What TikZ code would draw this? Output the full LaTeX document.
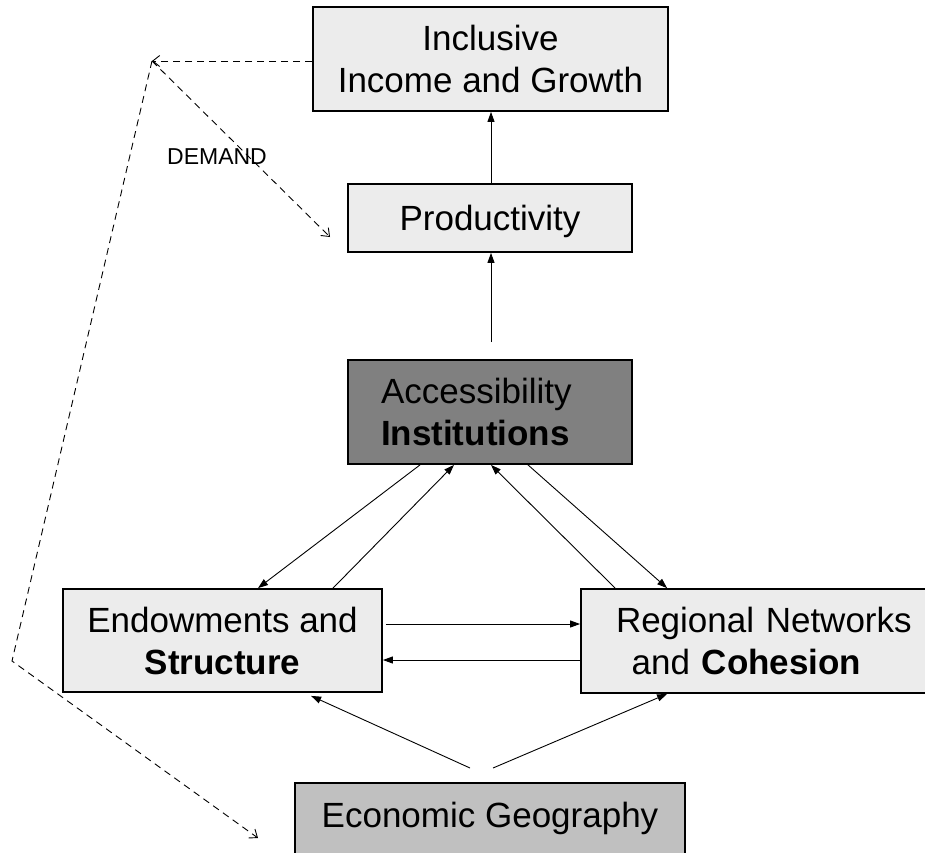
\documentclass[tikz,border=0pt]{standalone}
\usepackage{fontspec}
\setmainfont{Liberation Sans}
\usetikzlibrary{arrows.meta,calc}
\definecolor{boxfill}{RGB}{236,236,236}
\definecolor{darkfill}{RGB}{128,128,128}
\definecolor{geofill}{RGB}{192,192,192}
\begin{document}
\begin{tikzpicture}[x=1pt,y=-1pt,
  box/.style={draw=black, line width=1.8pt, fill=boxfill, inner sep=0pt,
              font=\fontsize{35}{42}\selectfont},
  arr/.style={line width=0.9pt, -{Triangle[length=10pt,width=7pt]}},
  darr/.style={line width=0.9pt, dash pattern=on 7pt off 5pt,
               -{Straight Barb[length=7pt,width=11pt]}},
  ]
\clip (0,0) rectangle (925,852);
\fill[white] (0,0) rectangle (925,852);

% boxes
\node[box, minimum width=355pt, minimum height=104pt, align=center] (incl) at (490.5,59)
  {Inclusive\\Income and Growth};
\node[box, minimum width=284pt, minimum height=68pt, text depth=0pt] (prod) at (490,218)
  {Productivity};
\node[box, fill=darkfill, minimum width=284pt, minimum height=104pt,
      text width=218pt, inner xsep=33pt, align=left] (acc) at (490,412)
  {Accessibility\\\textbf{Institutions}};
\node[box, minimum width=319pt, minimum height=103pt, align=center] (endo) at (222.5,640.5)
  {Endowments and\\\textbf{Structure}};
\node[box, minimum width=374pt, minimum height=104pt,
      text width=304pt, inner xsep=35pt, align=left] (reg) at (768,641)
  {Regional Networks\\\hspace*{15.7pt}and \textbf{Cohesion}};
\node[box, fill=geofill, minimum width=390pt, minimum height=71pt] (econ) at (490,818.5)
  {Economic Geography};

\node[font=\fontsize{23}{27}\selectfont, inner sep=0pt] (demand) at (217,157) {DEMAND};

% free ends
\coordinate (accTop) at ($(acc.north)+(1,-17)$);
\coordinate (g1) at (470,768);
\coordinate (g2) at (493,768);
\coordinate (D) at (152,61);
\coordinate (demEnd) at (330,237);
\coordinate (corner) at (12,661);
\coordinate (geoEnd) at (258,838);

% solid connectors
\draw[arr] ($(prod.north)+(1,0)$) -- ($(prod.north |- incl.south)+(1,0)$);
\draw[arr] (accTop) -- ($(prod.south)+(1,0)$);
\draw[arr] ($(acc.south)+(-70,0)$) -- ($(endo.north)+(35.5,0)$);
\draw[arr] ($(endo.north)+(110.5,0)$) -- ($(acc.south)+(-36,0)$);
\draw[arr] ($(reg.north west)+(35,0)$) -- ($(acc.south)+(1,0)$);
\draw[arr] ($(acc.south)+(38,0)$) -- ($(reg.north west)+(87,0)$);
\draw[arr] ($(endo.east)+(3,-16.5)$) -- ($(reg.west)+(0,-17)$);
\draw[arr] ($(reg.west)+(0,19)$) -- ($(endo.east)+(0,19.5)$);
\draw[arr] (g1) -- ($(endo.south west)+(249,3)$);
\draw[arr] (g2) -- ($(reg.south west)+(87,0)$);

% dashed connectors
\draw[darr] ($(incl.west)+(0,2)$) -- (D);
\draw[darr] (D) -- (demEnd);
\draw[darr] (D) -- (corner) -- (geoEnd);
\end{tikzpicture}
\end{document}
